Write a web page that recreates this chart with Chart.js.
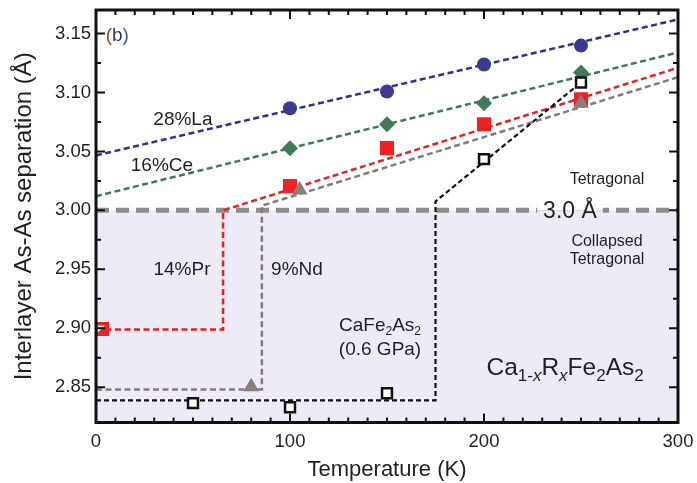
<!DOCTYPE html>
<html>
<head>
<meta charset="utf-8">
<script src="https://cdn.jsdelivr.net/npm/chart.js@4.4.1/dist/chart.umd.min.js"></script>
<style>
  html, body { margin: 0; padding: 0; background: #fff; }
  #wrap { width: 697px; height: 483px; }
</style>
</head>
<body>
<div id="wrap"><canvas id="sepChart" width="697" height="483"></canvas></div>
<script>
// Interlayer As-As separation vs temperature, Ca(1-x)R(x)Fe2As2

const FONT = "'Liberation Sans', Arial, Helvetica, sans-serif";
const TEXT = "#231f20";

// axis ticks
const xTicks = [0, 100, 200, 300];
const yTicks = [2.85, 2.9, 2.95, 3.0, 3.05, 3.1, 3.15];
const collapseLevel = 3.0;

// 28%La (circles) + linear fit
const laT = [100, 150, 200, 250];
const laSep = [3.0866, 3.1009, 3.1238, 3.1398];
const laFitT = [0, 300];
const laFit = [3.0466, 3.162];

// 16%Ce (diamonds) + linear fit
const ceT = [100, 150, 200, 250];
const ceSep = [3.0528, 3.0731, 3.0908, 3.117];
const ceFitT = [0, 300];
const ceFit = [3.012, 3.134];

// 14%Pr (squares) + guide
const prT = [3, 100, 150, 200, 250];
const prSep = [2.899, 3.0206, 3.0528, 3.0731, 3.0942];
const prGuideT = [0, 65.5, 65.5, 300];
const prGuide = [2.899, 2.899, 3.0, 3.121];

// 9%Nd (triangles) + guide
const ndT = [80, 105, 250];
const ndSep = [2.8503, 3.0173, 3.0908];
const ndGuideT = [0, 85.5, 85.5, 300];
const ndGuide = [2.848, 2.848, 3.004, 3.113];

// CaFe2As2 at 0.6 GPa (open squares) + guide
const caT = [50, 100, 150, 200, 250];
const caSep = [2.8364, 2.833, 2.8448, 3.0435, 3.1085];
const caGuideT = [0, 175, 175, 250];
const caGuide = [2.8387, 2.8387, 3.0076, 3.1085];

const pts = (xs, ys) => xs.map((x, i) => ({ x: x, y: ys[i] }));

// red square with a white corner for the lowest-temperature Pr point
function halfSquare(size, color) {
  const c = document.createElement("canvas");
  c.width = size;
  c.height = size;
  const g = c.getContext("2d");
  g.fillStyle = color;
  g.fillRect(0, 0, size, size);
  g.fillStyle = "#fff";
  g.beginPath();
  g.moveTo(3, 3);
  g.lineTo(size - 4, 3);
  g.lineTo(3, size - 4);
  g.closePath();
  g.fill();
  return c;
}

function guide(data, color, order) {
  return {
    data: data,
    showLine: true,
    borderColor: color,
    borderWidth: 2.5,
    borderDash: [6, 3.5],
    pointRadius: 0,
    fill: false,
    tension: 0,
    order: order,
  };
}

function markers(data, style, color, radius, order, extra) {
  return Object.assign(
    {
      data: data,
      showLine: false,
      pointStyle: style,
      pointRadius: radius,
      pointBackgroundColor: color,
      pointBorderColor: color,
      pointBorderWidth: 0,
      order: order,
    },
    extra || {}
  );
}

// draw a run of text pieces (normal / subscript / italic) centred at x
function drawRuns(ctx, runs, cx, cy) {
  let total = 0;
  runs.forEach((r) => {
    ctx.font = (r.italic ? "italic " : "") + r.size + "px " + FONT;
    r.w = ctx.measureText(r.t).width;
    total += r.w;
  });
  let x = cx - total / 2;
  ctx.textAlign = "left";
  ctx.textBaseline = "alphabetic";
  runs.forEach((r) => {
    ctx.font = (r.italic ? "italic " : "") + r.size + "px " + FONT;
    ctx.fillStyle = r.color || TEXT;
    ctx.fillText(r.t, x, cy + (r.dy || 0));
    x += r.w;
  });
}

const annotations = {
  id: "annotations",
  afterDraw(chart) {
    const { ctx, chartArea: a, scales } = chart;
    const X = (v) => scales.x.getPixelForValue(v);
    const Y = (v) => scales.y.getPixelForValue(v);
    ctx.save();

    // "3.0 Å" set into a gap of the dashed collapse line
    ctx.font = "23px " + FONT;
    const lbl = "3.0 Å";
    const lw = ctx.measureText(lbl).width;
    const lx = X(244.3);
    const ly = Y(collapseLevel);
    ctx.fillStyle = "#fff";
    ctx.fillRect(lx - lw / 2 - 6, ly - 4, lw + 12, 4);
    ctx.fillStyle = "#ecebf6";
    ctx.fillRect(lx - lw / 2 - 6, ly, lw + 12, 4);
    ctx.fillStyle = TEXT;
    ctx.textAlign = "center";
    ctx.textBaseline = "middle";
    ctx.fillText(lbl, lx, ly + 1);

    // series labels
    ctx.font = "19px " + FONT;
    ctx.fillText("28%La", X(44.8), Y(3.0772));
    ctx.fillText("16%Ce", X(34), Y(3.038));
    ctx.fillText("14%Pr", X(44.3), Y(2.95));
    ctx.fillText("9%Nd", X(103.6), Y(2.95));

    // phase labels
    ctx.font = "16px " + FONT;
    ctx.fillText("Tetragonal", X(263.4), Y(3.0265));
    ctx.fillText("Collapsed", X(263.4), Y(2.9738));
    ctx.fillText("Tetragonal", X(263.4), Y(2.9585));

    // panel tag
    drawRuns(ctx, [
      { t: "(", size: 19, color: "#7d4f35" },
      { t: "b", size: 19, color: "#2d3868" },
      { t: ")", size: 19, color: "#3d5a96" },
    ], X(11), Y(3.1495) + 7);

    // CaFe2As2 (0.6 GPa)
    drawRuns(ctx, [
      { t: "CaFe", size: 19 },
      { t: "2", size: 12, dy: 4 },
      { t: "As", size: 19 },
      { t: "2", size: 12, dy: 4 },
    ], X(146.4), Y(2.904) + 7);
    drawRuns(ctx, [{ t: "(0.6 GPa)", size: 19 }], X(146.4), Y(2.883) + 7);

    // Ca(1-x)R(x)Fe2As2
    const big = 24.5, sub = 17, dy = 6;
    drawRuns(ctx, [
      { t: "Ca", size: big },
      { t: "1-", size: sub, dy: dy },
      { t: "x", size: sub, dy: dy, italic: true },
      { t: "R", size: big },
      { t: "x", size: sub, dy: dy, italic: true },
      { t: "Fe", size: big },
      { t: "2", size: sub, dy: dy },
      { t: "As", size: big },
      { t: "2", size: sub, dy: dy },
    ], X(241.8), Y(2.867) + 8);

    // inward ticks on all four sides
    ctx.strokeStyle = "#111";
    ctx.lineWidth = 2;
    ctx.beginPath();
    for (let t = 10; t < 300; t += 10) {
      const len = t % 100 === 0 ? 9 : 5;
      const px = X(t);
      ctx.moveTo(px, a.bottom);
      ctx.lineTo(px, a.bottom - len);
      ctx.moveTo(px, a.top);
      ctx.lineTo(px, a.top + len);
    }
    for (let k = 0; k <= 12; k++) {
      const v = 2.85 + 0.025 * k;
      const len = k % 2 === 0 ? 9 : 5;
      const py = Y(v);
      ctx.moveTo(a.left, py);
      ctx.lineTo(a.left + len, py);
      ctx.moveTo(a.right, py);
      ctx.lineTo(a.right - len, py);
    }
    ctx.stroke();

    // frame
    ctx.lineWidth = 3;
    ctx.strokeRect(a.left, a.top, a.right - a.left, a.bottom - a.top);
    ctx.restore();
  },
};

const ctx = document.getElementById("sepChart").getContext("2d");

new Chart(ctx, {
  type: "scatter",
  data: {
    datasets: [
      // markers on top (lower order is drawn later)
      markers(pts(laT, laSep), "circle", "#3b3a8e", 7, 1),
      markers(pts(ceT, ceSep), "rectRot", "#3f7b5a", 8, 2),
      markers(pts(ndT, ndSep), "triangle", "#8a7c77", 9, 3),
      markers(pts(prT, prSep),
        [halfSquare(14, "#ec2227"), "rect", "rect", "rect", "rect"],
        "#ec2227", 10, 4),
      markers(pts(caT, caSep), "rect", "#fff", 7, 0, {
        pointBorderColor: "#111",
        pointBorderWidth: 2.5,
      }),
      // fits and guides
      guide(pts(laFitT, laFit), "#2e2f8f", 10),
      guide(pts(ceFitT, ceFit), "#3d7a55", 10),
      guide(pts(prGuideT, prGuide), "#e8201f", 11),
      guide(pts(ndGuideT, ndGuide), "#877a74", 12),
      Object.assign(guide(pts(caGuideT, caGuide), "#111", 10), {
        borderWidth: 2.2,
        borderDash: [5, 3],
      }),
      // 3.0 Å boundary
      {
        data: pts([0, 300], [collapseLevel, collapseLevel]),
        showLine: true,
        borderColor: "#8d8d8d",
        borderWidth: 5,
        borderDash: [13, 7],
        pointRadius: 0,
        fill: false,
        order: 15,
      },
      // collapsed-tetragonal shading
      {
        data: pts([0, 300], [collapseLevel, collapseLevel]),
        showLine: true,
        borderWidth: 0,
        backgroundColor: "#ecebf6",
        pointRadius: 0,
        fill: "start",
        order: 20,
      },
    ],
  },
  options: {
    responsive: false,
    animation: false,
    devicePixelRatio: 1,
    layout: {
      padding: { top: 8.3, right: 19, left: 0, bottom: 0 },
    },
    plugins: {
      legend: { display: false },
      tooltip: { enabled: false },
    },
    scales: {
      x: {
        type: "linear",
        min: 0,
        max: 300,
        afterBuildTicks: (s) => {
          s.ticks = xTicks.map((v) => ({ value: v }));
        },
        afterFit: (s) => {
          s.height = 60.5;
          s.paddingLeft = 0;
          s.paddingRight = 0;
        },
        grid: { display: false, drawTicks: false, tickLength: 0 },
        border: { display: false },
        ticks: {
          autoSkip: false,
          maxRotation: 0,
          padding: 8,
          color: TEXT,
          font: { family: FONT, size: 18.5 },
        },
        title: {
          display: true,
          text: "Temperature (K)",
          color: TEXT,
          font: { family: FONT, size: 22 },
          padding: { top: 0, bottom: 0 },
        },
      },
      y: {
        type: "linear",
        min: 2.82,
        max: 3.17,
        afterBuildTicks: (s) => {
          s.ticks = yTicks.map((v) => ({ value: v }));
        },
        afterFit: (s) => {
          s.width = 96;
          s.paddingTop = 0;
          s.paddingBottom = 0;
        },
        grid: { display: false, drawTicks: false, tickLength: 0 },
        border: { display: false },
        ticks: {
          autoSkip: false,
          padding: 5,
          color: TEXT,
          font: { family: FONT, size: 18.5 },
          callback: (v) => Number(v).toFixed(2),
        },
        title: {
          display: true,
          text: "Interlayer As-As separation (Å)",
          color: TEXT,
          font: { family: FONT, size: 24 },
          padding: { top: 9.6, bottom: 0 },
        },
      },
    },
  },
  plugins: [annotations],
});
</script>
</body>
</html>
